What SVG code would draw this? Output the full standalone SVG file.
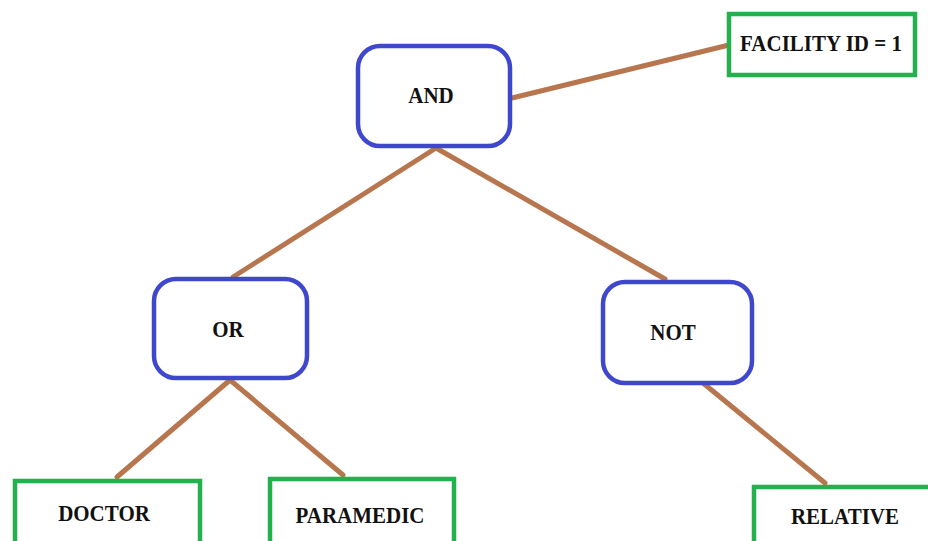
<svg xmlns="http://www.w3.org/2000/svg" width="928" height="541" viewBox="0 0 928 541">
  <style>
    .op { fill: #ffffff; stroke: #3f48cc; stroke-width: 4.5; }
    .leaf { fill: #ffffff; stroke: #22b14c; stroke-width: 4.5; }
    .edge { stroke: #b8764f; stroke-width: 5; stroke-linecap: round; fill: none; }
    text { font-family: "Liberation Serif", "Times New Roman", serif; font-weight: bold; font-size: 21px; fill: #111111; text-anchor: middle; }
  </style>
  <rect x="0" y="0" width="928" height="541" fill="#ffffff"/>

  <!-- connectors -->
  <g id="connectors">
    <line class="edge" x1="512" y1="98" x2="729" y2="45"/>
    <line class="edge" x1="436" y1="148" x2="233" y2="277"/>
    <line class="edge" x1="436" y1="148" x2="665" y2="279"/>
    <line class="edge" x1="230" y1="380" x2="117" y2="477"/>
    <line class="edge" x1="230" y1="380" x2="343" y2="475"/>
    <line class="edge" x1="703" y1="383" x2="825" y2="483"/>
  </g>

  <!-- operator nodes -->
  <g id="node-and">
    <rect class="op" x="358" y="46" width="152" height="100" rx="22"/>
    <text transform="translate(431,103) scale(1,1.12)">AND</text>
  </g>
  <g id="node-or">
    <rect class="op" x="154" y="279" width="153" height="99" rx="22"/>
    <text transform="translate(228,337) scale(1,1.12)">OR</text>
  </g>
  <g id="node-not">
    <rect class="op" x="603" y="282" width="149" height="101" rx="22"/>
    <text transform="translate(673,340) scale(1,1.12)">NOT</text>
  </g>

  <!-- leaf nodes -->
  <g id="node-facility">
    <rect class="leaf" x="729" y="14" width="186" height="61"/>
    <text transform="translate(821,51) scale(1,1.12)" font-size="20">FACILITY ID = 1</text>
  </g>
  <g id="node-doctor">
    <rect class="leaf" x="15" y="481" width="185" height="70"/>
    <text transform="translate(104,521) scale(1,1.12)">DOCTOR</text>
  </g>
  <g id="node-paramedic">
    <rect class="leaf" x="270" y="479" width="184" height="70"/>
    <text transform="translate(360,523) scale(1,1.12)">PARAMEDIC</text>
  </g>
  <g id="node-relative">
    <rect class="leaf" x="754" y="487" width="190" height="70"/>
    <text transform="translate(845,524) scale(1,1.12)">RELATIVE</text>
  </g>
</svg>
